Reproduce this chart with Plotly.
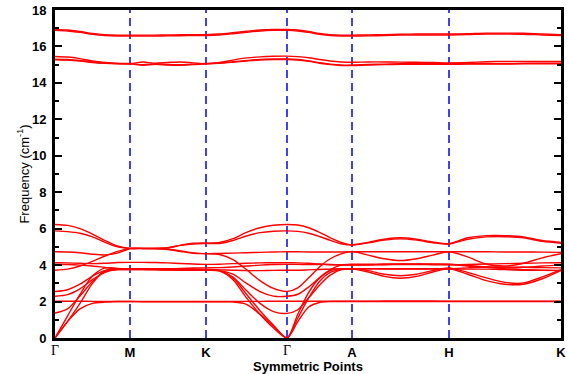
import plotly.graph_objects as go

# high-symmetry points along the path (path coordinate)
sym_pos = [0, 75, 151, 232, 297, 394, 506]
sym_labels = ["Γ", "M", "K", "Γ", "A", "H", "K"]

# k-path sample coordinates (7 per segment, shared ends)
kpath = [0, 12.5, 25, 37.5, 50, 62.5, 75,
         87.7, 100.3, 113, 125.7, 138.3, 151,
         164.5, 178, 191.5, 205, 218.5, 232,
         242.8, 253.7, 264.5, 275.3, 286.2, 297,
         313.2, 329.3, 345.5, 361.7, 377.8, 394,
         412.7, 431.3, 450, 468.7, 487.3, 506]

# phonon branches (cm^-1)
b01 = [6.23, 6.18, 6.0, 5.7, 5.35, 5.05, 4.92,
       4.92, 4.92, 4.95, 5.1, 5.2, 5.22,
       5.24, 5.45, 5.8, 6.05, 6.19, 6.23,
       6.2, 6.05, 5.8, 5.5, 5.25, 5.12,
       5.25, 5.42, 5.5, 5.42, 5.27, 5.18,
       5.5, 5.62, 5.62, 5.55, 5.35, 5.25]
b02 = [5.88, 5.84, 5.75, 5.55, 5.25, 5.0, 4.92,
       4.92, 4.92, 4.95, 5.08, 5.16, 5.18,
       5.19, 5.35, 5.6, 5.78, 5.86, 5.88,
       5.85, 5.75, 5.57, 5.36, 5.17, 5.1,
       5.22, 5.37, 5.44, 5.37, 5.23, 5.15,
       5.42, 5.55, 5.56, 5.5, 5.3, 5.2]
b03 = [4.73, 4.72, 4.68, 4.6, 4.56, 4.66, 4.9,
       4.9, 4.9, 4.88, 4.78, 4.67, 4.63,
       4.64, 4.66, 4.68, 4.7, 4.72, 4.73,
       4.73, 4.72, 4.72, 4.72, 4.72, 4.73,
       4.73, 4.73, 4.73, 4.73, 4.73, 4.73,
       4.73, 4.73, 4.72, 4.72, 4.71, 4.7]
b04 = [3.72, 3.78, 3.95, 4.2, 4.5, 4.75, 4.92,
       4.92, 4.91, 4.86, 4.75, 4.65, 4.62,
       4.58, 4.3, 3.75, 3.15, 2.72, 2.55,
       2.75, 3.3, 3.9, 4.35, 4.62, 4.75,
       4.55, 4.35, 4.25, 4.35, 4.55, 4.73,
       4.45, 4.05, 3.95, 4.1, 4.4, 4.62]
b05 = [4.13, 4.12, 4.1, 4.08, 4.1, 4.14, 4.15,
       4.15, 4.14, 4.12, 4.09, 4.06, 4.04,
       4.05, 4.08, 4.1, 4.12, 4.13, 4.13,
       4.12, 4.1, 4.06, 4.03, 4.01, 4.0,
       4.01, 4.02, 4.03, 4.03, 4.02, 4.02,
       4.04, 4.06, 4.08, 4.1, 4.12, 4.13]
b06 = [4.04, 4.03, 4.0, 3.95, 3.87, 3.8, 3.78,
       3.78, 3.78, 3.8, 3.82, 3.84, 3.85,
       3.86, 3.9, 3.95, 4.0, 4.03, 4.04,
       4.04, 4.03, 4.03, 4.02, 4.02, 4.02,
       4.02, 4.03, 4.05, 4.05, 4.04, 4.03,
       3.98, 3.9, 3.85, 3.88, 3.95, 4.0]
b07 = [2.55, 2.65, 2.95, 3.4, 3.7, 3.78, 3.78,
       3.78, 3.77, 3.76, 3.75, 3.75, 3.75,
       3.74, 3.72, 3.7, 3.7, 3.71, 3.72,
       3.72, 3.74, 3.76, 3.78, 3.8, 3.8,
       3.8, 3.8, 3.8, 3.8, 3.8, 3.8,
       3.85, 3.9, 3.9, 3.88, 3.86, 3.85]
b08 = [2.29, 2.38, 2.7, 3.2, 3.6, 3.75, 3.76,
       3.76, 3.75, 3.74, 3.73, 3.72, 3.72,
       3.7, 3.5, 3.0, 2.55, 2.3, 2.29,
       2.4, 2.8, 3.3, 3.75, 4.0, 4.05,
       4.05, 4.06, 4.07, 4.07, 4.06, 4.05,
       3.95, 3.88, 3.8, 3.75, 3.72, 3.71]
b09 = [2.02, 2.02, 2.02, 2.01, 2.0, 2.0, 2.0,
       2.0, 2.0, 2.0, 2.0, 2.0, 2.0,
       2.0, 2.0, 2.01, 2.01, 2.02, 2.02,
       2.02, 2.02, 2.02, 2.02, 2.02, 2.02,
       2.02, 2.03, 2.03, 2.03, 2.03, 2.02,
       2.02, 2.02, 2.02, 2.02, 2.02, 2.02]
b10 = [1.37, 1.6, 2.3, 3.1, 3.65, 3.75, 3.75,
       3.75, 3.74, 3.73, 3.72, 3.72, 3.72,
       3.7, 3.35, 2.6, 1.9, 1.45, 1.35,
       1.55, 2.2, 2.9, 3.45, 3.75, 3.8,
       3.7, 3.5, 3.42, 3.5, 3.7, 3.85,
       3.6, 3.3, 3.05, 3.02, 3.35, 3.75]
b11 = [0.0, 0.9, 1.6, 1.9, 1.97, 2.0, 2.0,
       1.99, 1.99, 1.99, 1.99, 1.99, 1.99,
       1.99, 1.98, 1.85, 1.3, 0.65, 0.0,
       0.9, 1.7, 1.95, 2.0, 2.0, 2.0,
       2.0, 2.0, 2.0, 2.0, 2.0, 2.0,
       2.0, 2.0, 2.0, 2.0, 2.0, 2.0]
b12 = [0.0, 1.2, 2.4, 3.4, 3.85, 3.82, 3.8,
       3.8, 3.8, 3.79, 3.78, 3.77, 3.76,
       3.7, 3.3, 2.4, 1.5, 0.7, 0.0,
       1.3, 2.5, 3.3, 3.7, 3.8, 3.8,
       3.8, 3.79, 3.78, 3.78, 3.79, 3.8,
       3.78, 3.78, 3.75, 3.72, 3.71, 3.7]
b13 = [0.0, 0.9, 1.9, 3.0, 3.7, 3.8, 3.8,
       3.8, 3.79, 3.78, 3.77, 3.76, 3.75,
       3.68, 3.2, 2.2, 1.3, 0.55, 0.0,
       1.1, 2.2, 3.1, 3.6, 3.75, 3.78,
       3.62, 3.38, 3.28, 3.38, 3.62, 3.8,
       3.5, 3.15, 2.95, 2.95, 3.25, 3.7]
b14 = [15.27, 15.25, 15.2, 15.12, 15.07, 15.05, 15.05,
       14.97, 15.02, 14.98, 14.97, 15.0, 15.05,
       15.07, 15.13, 15.2, 15.26, 15.28, 15.28,
       15.25, 15.18, 15.08, 15.0, 14.95, 14.95,
       14.98, 15.0, 15.02, 15.02, 15.02, 15.02,
       15.03, 15.03, 15.03, 15.05, 15.05, 15.05]
b15 = [15.3, 15.28, 15.23, 15.15, 15.09, 15.06, 15.06,
       15.0, 15.05, 15.01, 15.0, 15.03, 15.07,
       15.1, 15.16, 15.23, 15.29, 15.31, 15.31,
       15.28, 15.21, 15.11, 15.03, 14.98, 14.98,
       15.01, 15.03, 15.05, 15.05, 15.05, 15.05,
       15.06, 15.06, 15.06, 15.08, 15.08, 15.08]
b16 = [15.45, 15.42, 15.33, 15.2, 15.12, 15.07, 15.05,
       15.15, 15.08, 15.12, 15.15, 15.1, 15.05,
       15.12, 15.25, 15.37, 15.43, 15.46, 15.47,
       15.44, 15.38, 15.28, 15.2, 15.15, 15.13,
       15.15, 15.15, 15.14, 15.13, 15.12, 15.1,
       15.12, 15.16, 15.18, 15.18, 15.17, 15.17]
b17 = [16.88, 16.85, 16.77, 16.67, 16.6, 16.57, 16.57,
       16.57, 16.57, 16.58, 16.59, 16.6, 16.6,
       16.63, 16.7, 16.78, 16.85, 16.88, 16.88,
       16.85, 16.77, 16.67, 16.6, 16.57, 16.57,
       16.58, 16.6, 16.62, 16.63, 16.63, 16.63,
       16.65, 16.68, 16.68, 16.67, 16.63, 16.6]
b18 = [16.93, 16.9, 16.82, 16.72, 16.65, 16.62, 16.62,
       16.62, 16.62, 16.63, 16.64, 16.65, 16.65,
       16.68, 16.75, 16.83, 16.9, 16.93, 16.93,
       16.9, 16.82, 16.72, 16.65, 16.62, 16.62,
       16.63, 16.65, 16.67, 16.68, 16.68, 16.68,
       16.7, 16.73, 16.73, 16.72, 16.68, 16.65]

bands = [b01, b02, b03, b04, b05, b06, b07, b08, b09,
         b10, b11, b12, b13, b14, b15, b16, b17, b18]

y_ticks = [0, 2, 4, 6, 8, 10, 12, 14, 16, 18]

fig = go.Figure()

# dashed separators at interior high-symmetry points
for xp in sym_pos[1:-1]:
    fig.add_trace(go.Scatter(
        x=[xp, xp], y=[0, 18], mode="lines",
        line=dict(color="#0000ff", width=1.5, dash="8px,5px"),
        hoverinfo="skip", showlegend=False))

for b in bands:
    fig.add_trace(go.Scatter(
        x=kpath, y=b, mode="lines",
        line=dict(color="#ff0000", width=1.4, shape="spline", smoothing=0.8),
        showlegend=False))

# Latin labels as bold tick text; Greek Γ drawn in a serif face as annotations
latin_pos = [p for p, lab in zip(sym_pos, sym_labels) if lab != "Γ"]
latin_txt = ["<b>" + lab + "</b>" for lab in sym_labels if lab != "Γ"]
for xp, lab in zip(sym_pos, sym_labels):
    if lab == "Γ":
        fig.add_annotation(
            x=xp, xref="x", y=0, yref="paper", yanchor="top", yshift=-3,
            text=lab, showarrow=False,
            font=dict(family="Liberation Serif, DejaVu Serif, serif", size=14, color="black"))

fig.update_layout(
    width=569, height=374,
    margin=dict(l=55, r=8, t=10, b=36),
    paper_bgcolor="white", plot_bgcolor="white",
    font=dict(family="Liberation Sans, Arial, sans-serif", color="black"),
    xaxis=dict(
        range=[sym_pos[0], sym_pos[-1]],
        tickvals=latin_pos, ticktext=latin_txt,
        ticks="", showgrid=False, zeroline=False, automargin=False,
        showline=True, linecolor="black", linewidth=3, mirror=True,
        tickfont=dict(size=13, family="Liberation Sans"),
        title=dict(text="<b>Symmetric Points</b>", font=dict(size=13), standoff=0),
    ),
    yaxis=dict(
        range=[0, 18], tickvals=y_ticks,
        ticktext=["<b>%d</b>" % v for v in y_ticks],
        ticks="inside", ticklen=7, tickwidth=2, tickcolor="black",
        showgrid=False, zeroline=False, automargin=False,
        showline=True, linecolor="black", linewidth=3, mirror="ticks",
        minor=dict(ticks="inside", ticklen=4, tickwidth=1.5, dtick=1, tickcolor="black", showgrid=False),
        tickfont=dict(size=13, family="Liberation Sans"),
        ticklabelstandoff=3,
        title=dict(text="Frequency (cm<sup>-1</sup>)", font=dict(size=13), standoff=0),
    ),
)

# remove the default page margin so the figure fills the window exactly
fig.write_html("out.html",
               config={"displayModeBar": False},
               post_script="document.body.style.margin='0';document.body.style.overflow='hidden';")
